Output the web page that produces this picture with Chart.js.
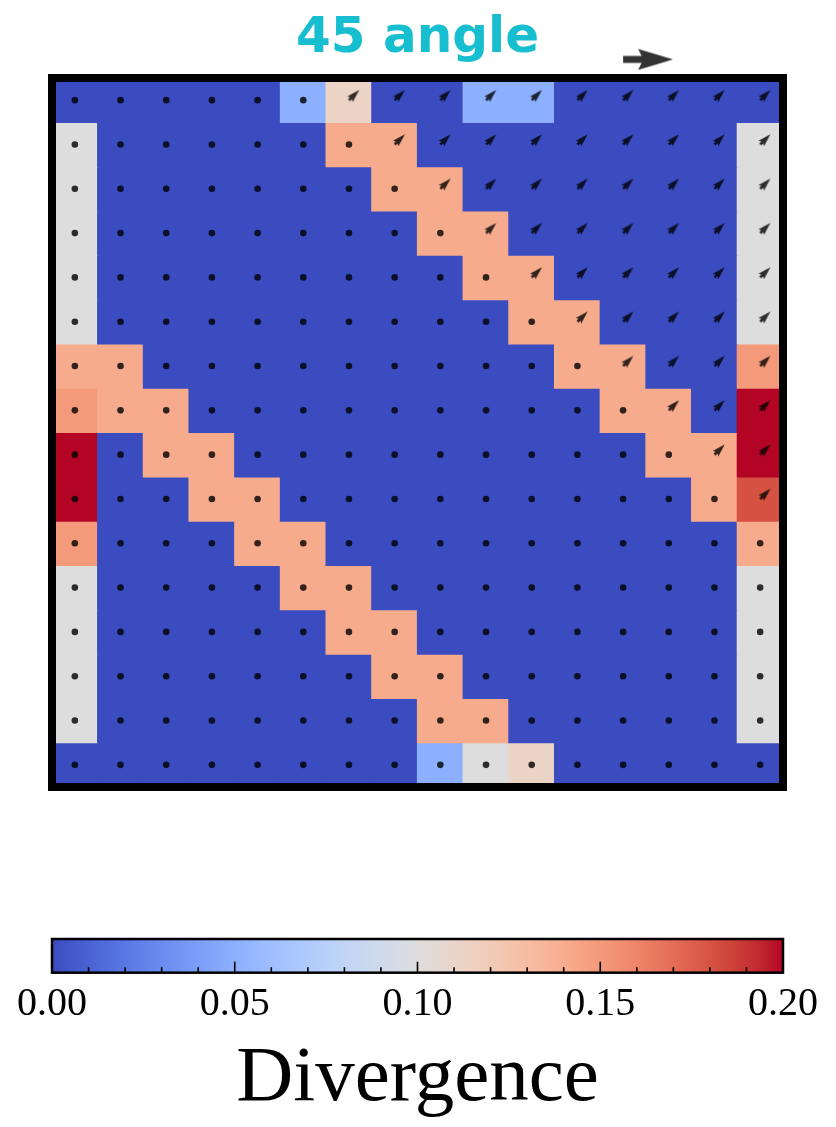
<!DOCTYPE html>
<html><head><meta charset="utf-8">
<script src="https://cdn.jsdelivr.net/npm/chart.js@4.4.1/dist/chart.umd.min.js"></script>
<style>
html,body{margin:0;padding:0;background:#fff;width:836px;height:1127px;overflow:hidden}
#wrapA{position:absolute;left:0;top:0;width:836px;height:800px}
#wrapB{position:absolute;left:0;top:880px;width:836px;height:247px}
canvas{display:block}
</style></head><body>
<div id="wrapA"><canvas id="heat" width="836" height="800"></canvas></div>
<div id="wrapB"><canvas id="cbar" width="836" height="247"></canvas></div>
<script>
// ---------------- data (rows listed top to bottom, 16 columns each) ----------------
const row00 = [0,0,0,0,0,0.05,0.112,0,0,0.05,0.05,0,0,0,0,0];
const row01 = [0.10,0,0,0,0,0,0.141,0.141,0,0,0,0,0,0,0,0.10];
const row02 = [0.10,0,0,0,0,0,0,0.141,0.141,0,0,0,0,0,0,0.10];
const row03 = [0.10,0,0,0,0,0,0,0,0.141,0.141,0,0,0,0,0,0.10];
const row04 = [0.10,0,0,0,0,0,0,0,0,0.141,0.141,0,0,0,0,0.10];
const row05 = [0.10,0,0,0,0,0,0,0,0,0,0.141,0.141,0,0,0,0.10];
const row06 = [0.141,0.141,0,0,0,0,0,0,0,0,0,0.141,0.141,0,0,0.15];
const row07 = [0.15,0.141,0.141,0,0,0,0,0,0,0,0,0,0.141,0.141,0,0.20];
const row08 = [0.20,0,0.141,0.141,0,0,0,0,0,0,0,0,0,0.141,0.141,0.20];
const row09 = [0.20,0,0,0.141,0.141,0,0,0,0,0,0,0,0,0,0.141,0.181];
const row10 = [0.15,0,0,0,0.141,0.141,0,0,0,0,0,0,0,0,0,0.141];
const row11 = [0.10,0,0,0,0,0.141,0.141,0,0,0,0,0,0,0,0,0.10];
const row12 = [0.10,0,0,0,0,0,0.141,0.141,0,0,0,0,0,0,0,0.10];
const row13 = [0.10,0,0,0,0,0,0,0.141,0.141,0,0,0,0,0,0,0.10];
const row14 = [0.10,0,0,0,0,0,0,0,0.141,0.141,0,0,0,0,0,0.10];
const row15 = [0,0,0,0,0,0,0,0,0.05,0.10,0.112,0,0,0,0,0];
// first column (per row) whose velocity vector is non-zero (16 = none)
const arrowFromCol = [6,7,8,9,10,11,12,13,14,15,16,16,16,16,16,16];
const arrowAngleDeg = 45;
// colorbar ticks
const cbarTicks = [0.00,0.05,0.10,0.15,0.20];
const cbarMinorTicks = [0.01,0.02,0.03,0.04,0.06,0.07,0.08,0.09,0.11,0.12,0.13,0.14,0.16,0.17,0.18,0.19];
const titleText = '45 angle';
const cbarLabel = 'Divergence';

// ---------------- colormap (coolwarm) ----------------
const COOLWARM = [[59,76,192],[68,90,204],[77,104,215],[87,117,225],[98,130,234],[108,142,241],[119,154,247],[130,165,251],[141,176,254],[152,185,255],[163,194,255],[174,201,253],[184,208,249],[194,213,244],[204,217,238],[213,219,230],[221,221,221],[229,216,209],[236,211,197],[241,204,185],[245,196,173],[247,187,160],[247,177,148],[247,166,135],[244,154,123],[241,141,111],[236,127,99],[229,112,88],[222,96,77],[213,80,66],[203,62,56],[192,40,47],[180,4,38]];
const vMin = cbarTicks[0], vMax = cbarTicks[cbarTicks.length-1];
function cmap(v){
  let t = (v - vMin)/(vMax - vMin); t = Math.max(0, Math.min(1, t));
  const p = t*(COOLWARM.length-1); const i = Math.min(Math.floor(p), COOLWARM.length-2); const f = p - i;
  const a = COOLWARM[i], b = COOLWARM[i+1];
  return 'rgb(' + [0,1,2].map(k=>Math.round(a[k]+(b[k]-a[k])*f)).join(',') + ')';
}

const rows = [row00,row01,row02,row03,row04,row05,row06,row07,row08,row09,row10,row11,row12,row13,row14,row15];
const nRows = rows.length, nCols = row00.length;

// ---------------- arrow glyphs ----------------
function makeArrow(L, w, angleDeg, color){
  const size = Math.ceil(2*L + 8);
  const c = document.createElement('canvas'); c.width = size; c.height = size;
  const g = c.getContext('2d');
  g.translate(size/2, size/2); g.rotate(-angleDeg*Math.PI/180);
  const hl = 5*w, hw = 3*w, ha = 4.5*w;
  g.beginPath();
  g.moveTo(0,-w/2); g.lineTo(L-ha,-w/2); g.lineTo(L-hl,-hw/2); g.lineTo(L,0);
  g.lineTo(L-hl,hw/2); g.lineTo(L-ha,w/2); g.lineTo(0,w/2); g.closePath();
  g.fillStyle = color; g.fill();
  return c;
}
const markColor = 'rgba(0,0,0,0.8)';
const cellArrow = makeArrow(14.5, 2.6, arrowAngleDeg, markColor);
const keyArrow = makeArrow(50, 7, 0, markColor);

// ---------------- heatmap chart ----------------
const datasets = [];
rows.forEach((row, r) => {
  datasets.push({
    type: 'bar',
    data: row.map((v, c) => ({x: c + 0.5, y: [nRows - 1 - r, nRows - r]})),
    backgroundColor: row.map(cmap),
    borderWidth: 0, grouped: false, barPercentage: 1, categoryPercentage: 1, inflateAmount: 0.6, order: 2
  });
});
const dotPts = [], arrowPts = [];
rows.forEach((row, r) => {
  row.forEach((v, c) => {
    const p = {x: c + 0.5, y: nRows - r - 0.5};
    if (c >= arrowFromCol[r]) arrowPts.push(p); else dotPts.push(p);
  });
});
datasets.push({type:'scatter', data: dotPts, pointStyle:'circle', pointRadius:3.3, pointBackgroundColor: markColor, pointBorderWidth:0, order:0});
datasets.push({type:'scatter', data: arrowPts, pointStyle: cellArrow, pointRadius:8, order:0});
datasets.push({type:'scatter', data: [{x:12.5, y:16.42}], pointStyle: keyArrow, pointRadius:20, order:0, clip:false});

const frame = {
  id: 'frame',
  afterDatasetsDraw(chart){
    const {ctx, chartArea:a} = chart;
    ctx.save(); ctx.lineWidth = 8; ctx.strokeStyle = '#000';
    ctx.strokeRect(a.left, a.top, a.right - a.left, a.bottom - a.top);
    ctx.restore();
  }
};

new Chart(document.getElementById('heat'), {
  type: 'bar',
  data: {datasets},
  options: {
    responsive: false, animation: false, events: [],
    layout: {autoPadding: false, padding: {left:52, right:53, top:0, bottom:13}},
    plugins: {
      legend: {display:false}, tooltip: {enabled:false},
      title: {display:true, text:titleText, color:'#17becf',
        font:{family:'DejaVu Sans', size:50, weight:'bold', lineHeight:1.2},
        padding:{top:9, bottom:9}}
    },
    scales: {
      x: {type:'linear', min:0, max:nCols, offset:false, display:false},
      y: {type:'linear', min:0, max:nRows, display:false}
    }
  },
  plugins: [frame]
});

// ---------------- colorbar chart ----------------
const cbarFrame = {
  id: 'cbarFrame',
  afterDatasetsDraw(chart){
    const {ctx, chartArea:a} = chart; const xs = chart.scales.x;
    ctx.save(); ctx.strokeStyle = '#000'; ctx.lineWidth = 1.6;
    const all = cbarTicks.map(v=>[v,11]).concat(cbarMinorTicks.map(v=>[v,5.5]));
    all.forEach(([v,len]) => {
      const x = xs.getPixelForValue(v);
      ctx.beginPath(); ctx.moveTo(x, a.bottom); ctx.lineTo(x, a.bottom - len); ctx.stroke();
    });
    ctx.lineWidth = 2.5;
    ctx.strokeRect(a.left, a.top, a.right - a.left, a.bottom - a.top);
    ctx.restore();
  }
};
new Chart(document.getElementById('cbar'), {
  type: 'bar',
  data: {
    labels: ['cbar'],
    datasets: [{
      data: [[vMin, vMax]],
      backgroundColor(context){
        const chart = context.chart; const a = chart.chartArea; if (!a) return null;
        const xs = chart.scales.x;
        const g = chart.ctx.createLinearGradient(xs.getPixelForValue(vMin), 0, xs.getPixelForValue(vMax), 0);
        COOLWARM.forEach((c,i) => g.addColorStop(i/(COOLWARM.length-1), 'rgb('+c.join(',')+')'));
        return g;
      },
      borderWidth: 0, barPercentage: 1, categoryPercentage: 1
    }]
  },
  options: {
    indexAxis: 'y', responsive: false, animation: false, events: [],
    layout: {autoPadding: false, padding: {left:52, right:53, top:59, bottom:0}},
    plugins: {
      legend:{display:false}, tooltip:{enabled:false},
      title:{display:true, position:'bottom', text:cbarLabel, color:'#000', padding:{top:0, bottom:5},
        font:{family:'Liberation Serif', size:79, weight:'normal', lineHeight:1.08}}
    },
    scales: {
      y: {display:false},
      x: {type:'linear', min:vMin, max:vMax, position:'bottom', offset:false,
        grid:{display:false, drawTicks:false}, border:{display:false},
        afterBuildTicks(scale){ scale.ticks = cbarTicks.map(v=>({value:v})); },
        ticks:{callback:(v)=>Number(v).toFixed(2), color:'#000', padding:8, maxRotation:0, autoSkip:false,
          font:{family:'Liberation Serif', size:40, lineHeight:1.2}}
      }
    }
  },
  plugins: [cbarFrame]
});
</script>
</body></html>
